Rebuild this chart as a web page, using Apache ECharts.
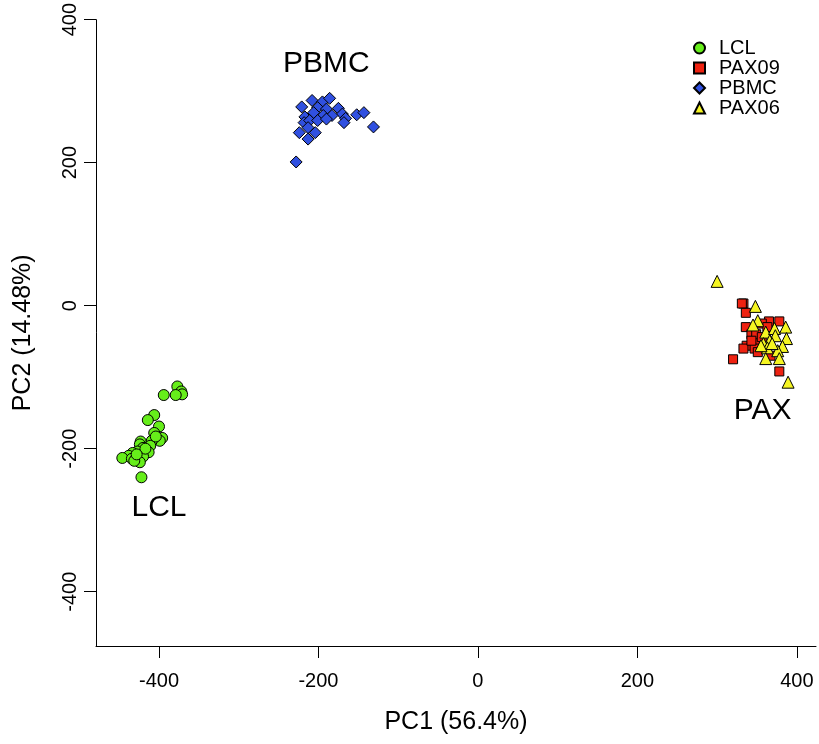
<!DOCTYPE html>
<html>
<head>
<meta charset="utf-8">
<script src="https://cdn.jsdelivr.net/npm/echarts@6/dist/echarts.min.js"></script>
<style>
  html, body { margin: 0; padding: 0; background: #fff; }
  #main { width: 819px; height: 744px; }
</style>
</head>
<body>
<div id="main"></div>
<script>
var FONT = "Liberation Sans, Arial, Helvetica, sans-serif";

var seriesNames = ["LCL", "PAX09", "PBMC", "PAX06"];
var xTicks = [-400, -200, 0, 200, 400];
var yTicks = [-400, -200, 0, 200, 400];

var lclData = [
  [-377, -113], [-372, -120], [-371, -124], [-379, -125], [-394, -125],
  [-406, -153], [-414, -160], [-400, -169], [-406, -178], [-396, -185],
  [-399, -189], [-409, -189], [-423, -190], [-424, -194], [-411, -196],
  [-420, -199], [-413, -205], [-427, -204], [-433, -206], [-438, -210],
  [-446, -213], [-434, -214], [-429, -214], [-420, -211], [-424, -219],
  [-431, -217], [-422, -240], [-417, -200], [-428, -208], [-404, -183]
];
var pax09Data = [
  [333, 3], [331, 3], [336, -10], [336, -30], [343, -40], [351, -49],
  [337, -56], [333, -60], [347, -60], [351, -65], [320, -75], [378, -92],
  [378, -22], [365, -22], [356, -25], [363, -30], [349, -40], [356, -44],
  [343, -49], [367, -70]
];
var pbmcData = [
  [-221, 278], [-208, 287], [-195, 285], [-186, 290], [-201, 277], [-190, 275],
  [-175, 276], [-170, 268], [-166, 262], [-168, 256], [-152, 267], [-143, 270],
  [-131, 250], [-217, 264], [-206, 270], [-194, 266], [-183, 266], [-218, 256],
  [-211, 259], [-201, 259], [-190, 261], [-213, 249], [-204, 242], [-224, 242],
  [-213, 233], [-228, 201]
];
var pax06Data = [
  [300, 34], [348, -1], [351, -21], [345, -27], [361, -37], [372, -32],
  [386, -30], [373, -42], [387, -46], [366, -49], [358, -53], [382, -57],
  [363, -59], [376, -63], [361, -74], [378, -74], [389, -107], [355, -56],
  [369, -53]
];
var clusterNames = ["PBMC", "LCL", "PAX"];
var clusterLabelPos = [[-190, 339], [-400, -282], [357, -147]];

var myChart = echarts.init(document.getElementById("main"));

function pointSeries(name, data, symbol, size, color) {
  return {
    name: name,
    type: "scatter",
    data: data,
    symbol: symbol,
    symbolSize: size,
    itemStyle: { color: color, borderColor: "#000", borderWidth: 1, opacity: 1 },
    emphasis: { disabled: true }
  };
}

var option = {
  backgroundColor: "#fff",
  animation: false,
  textStyle: { fontFamily: FONT },
  grid: { left: 96, right: 3, top: 19, bottom: 98 },
  legend: {
    data: seriesNames,
    orient: "vertical",
    left: 688,
    top: 33,
    itemWidth: 11,
    itemHeight: 11,
    itemGap: 0,
    textStyle: { fontSize: 20, lineHeight: 19.5, color: "#000", fontFamily: FONT, padding: [0, 0, 0, 9] },
    selectedMode: false
  },
  xAxis: {
    type: "value",
    min: -479,
    max: 424,
    name: "PC1 (56.4%)",
    nameLocation: "middle",
    nameGap: 64,
    nameTextStyle: { fontSize: 25, color: "#000", fontFamily: FONT },
    axisLine: { onZero: false, lineStyle: { color: "#000", width: 1 } },
    axisTick: { length: 12, customValues: xTicks, lineStyle: { color: "#000" } },
    axisLabel: { customValues: xTicks, fontSize: 20, color: "#000", margin: 25, fontFamily: FONT },
    splitLine: { show: false }
  },
  yAxis: {
    type: "value",
    min: -476,
    max: 400,
    name: "PC2 (14.48%)",
    nameLocation: "middle",
    nameGap: 60,
    nameTextStyle: { fontSize: 25, color: "#000", fontFamily: FONT },
    axisLine: { show: true, onZero: false, lineStyle: { color: "#000", width: 1 } },
    axisTick: { show: true, length: 12, customValues: yTicks, lineStyle: { color: "#000" } },
    axisLabel: { customValues: yTicks, rotate: 90, fontSize: 20, color: "#000", margin: 16, fontFamily: FONT },
    splitLine: { show: false }
  },
  series: [
    pointSeries("LCL", lclData, "circle", 11, "#66ee1a"),
    pointSeries("PAX09", pax09Data, "rect", 9, "#ee2211"),
    pointSeries("PBMC", pbmcData, "diamond", 12, "#3050e0"),
    pointSeries("PAX06", pax06Data, "triangle", 12, "#f5f522"),
    {
      name: "clusters",
      type: "scatter",
      symbolSize: 1,
      silent: true,
      itemStyle: { opacity: 0 },
      data: clusterLabelPos.map(function (p, i) {
        return { name: clusterNames[i], value: p };
      }),
      label: {
        show: true,
        position: "inside",
        formatter: "{b}",
        fontSize: 30,
        color: "#000",
        opacity: 1,
        fontFamily: FONT
      }
    }
  ]
};
myChart.setOption(option);
window.addEventListener("resize", function () {
  myChart.resize();
});
</script>
</body>
</html>
